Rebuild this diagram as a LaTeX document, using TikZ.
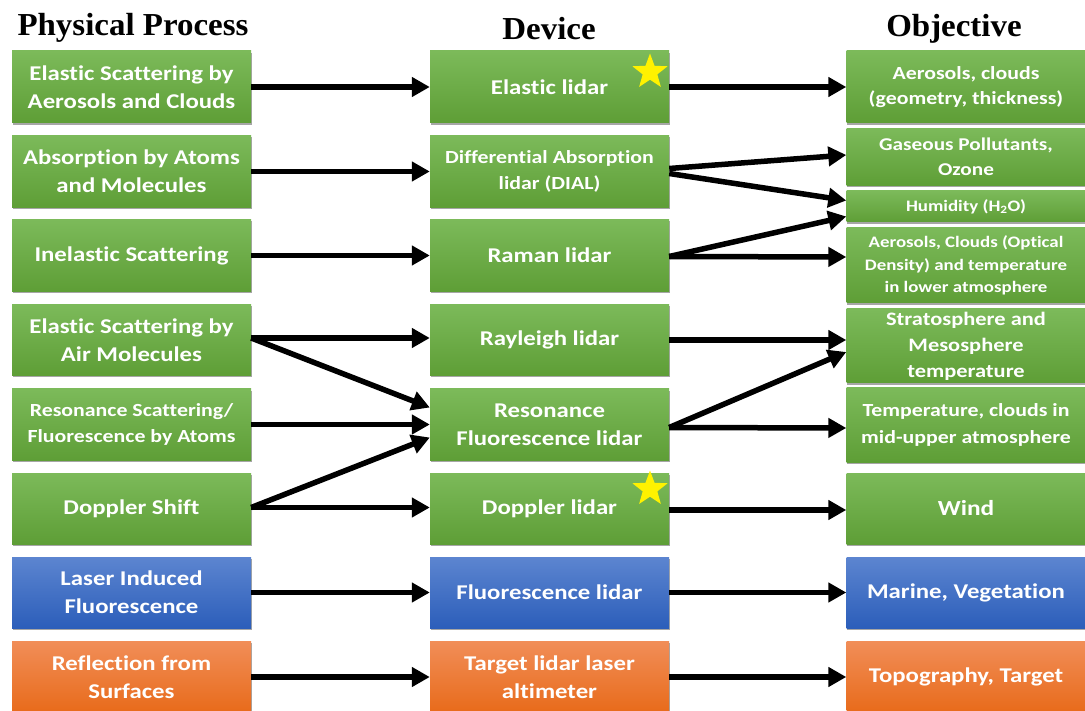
\documentclass[tikz,border=0pt]{standalone}
\usepackage{fontspec}
\setmainfont{Carlito}[FakeStretch=1.18, Ligatures=NoCommon]
\newfontfamily\headfont{Liberation Serif}[FakeStretch=1.03]
\usetikzlibrary{arrows.meta,shapes.geometric,shadows}

\definecolor{gtop}{RGB}{124,186,90}
\definecolor{gbot}{RGB}{94,158,54}
\definecolor{btop}{RGB}{92,133,208}
\definecolor{bbot}{RGB}{44,94,186}
\definecolor{otop}{RGB}{241,142,88}
\definecolor{obot}{RGB}{232,106,26}
\definecolor{staryellow}{RGB}{255,242,0}

\tikzset{
  box/.style={rectangle, minimum width=239pt, inner sep=1pt, align=center,
    text=white, font=\bfseries\fontsize{21}{28}\selectfont,
    drop shadow={shadow xshift=0.5pt, shadow yshift=-2pt, opacity=0.35, fill=black}},
  gbox/.style={box, top color=gtop, bottom color=gbot},
  bbox/.style={box, top color=btop, bottom color=bbot},
  obox/.style={box, top color=otop, bottom color=obot},
  hdr/.style={font=\headfont\bfseries\fontsize{32}{34}\selectfont, text=black, inner sep=0pt, anchor=base},
  arr/.style={line width=5.5pt, -{Triangle[length=18pt,width=19pt]}},
  starmark/.style={star, star points=5, star point ratio=2.4, fill=staryellow,
    draw=none, minimum size=37pt, inner sep=0pt},
}

\begin{document}
\begin{tikzpicture}[x=1pt,y=-1pt]
\useasboundingbox (0,0) rectangle (1085,711);

% column headings
\node[hdr] (hP) at (133,36) {Physical Process};
\node[hdr] (hD) at (549,40) {Device};
\node[hdr] (hO) at (954,37) {Objective};

% physical processes
\node[gbox, minimum height=72pt] (L1) at (131.5,87)   {Elastic Scattering by\\Aerosols and Clouds};
\node[gbox, minimum height=72pt] (L2) at (131.5,171.5) {Absorption by Atoms\\and Molecules};
\node[gbox, minimum height=72pt] (L3) at (131.5,255.5) {Inelastic Scattering};
\node[gbox, minimum height=71pt] (L4) at (131.5,340)   {Elastic Scattering by\\Air Molecules};
\node[gbox, minimum height=71pt, font=\bfseries\fontsize{18.5}{26}\selectfont] (L5) at (131.5,424.5) {Resonance Scattering/\\Fluorescence by Atoms};
\node[gbox, minimum height=71pt] (L6) at (131.5,508.5) {Doppler Shift};
\node[bbox, minimum height=71pt] (L7) at (131.5,592.5) {Laser Induced\\Fluorescence};
\node[obox, minimum height=72pt] (L8) at (131.5,677)   {Reflection from\\Surfaces};

% devices
\node[gbox, minimum height=72pt] (M1) at (549.5,87)    {Elastic lidar};
\node[gbox, minimum height=72pt, font=\bfseries\fontsize{18.5}{26}\selectfont] (M2) at (549.5,171.5) {Differential Absorption\\lidar (DIAL)};
\node[gbox, minimum height=72pt] (M3) at (549.5,255.5) {Raman lidar};
\node[gbox, minimum height=71pt] (M4) at (549.5,340)   {Rayleigh lidar};
\node[gbox, minimum height=71pt] (M5) at (549.5,424.5) {Resonance\\Fluorescence lidar};
\node[gbox, minimum height=71pt] (M6) at (549.5,508.5) {Doppler lidar};
\node[bbox, minimum height=71pt] (M7) at (549.5,592.5) {Fluorescence lidar};
\node[obox, minimum height=72pt] (M8) at (549.5,677)   {Target lidar laser\\altimeter};

\node[starmark] (S1) at (650,72) {};
\node[starmark] (S2) at (650,489) {};

% objectives
\node[gbox, minimum height=72pt, font=\bfseries\fontsize{18.5}{25}\selectfont] (R1) at (966,87)  {Aerosols, clouds\\(geometry, thickness)};
\node[gbox, minimum height=57pt, font=\bfseries\fontsize{18}{25}\selectfont] (R2) at (966,157) {Gaseous Pollutants,\\Ozone};
\node[gbox, minimum height=31pt, font=\bfseries\fontsize{16}{18}\selectfont] (R3) at (966,206.5) {Humidity (H\textsubscript{2}O)};
\node[gbox, minimum height=75pt, font=\bfseries\fontsize{16}{22.5}\selectfont] (R4) at (966,265.5) {Aerosols, Clouds (Optical\\Density) and temperature\\in lower atmosphere};
\node[gbox, minimum height=74pt, font=\bfseries\fontsize{19}{26}\selectfont] (R5) at (966,346) {Stratosphere and\\Mesosphere\\temperature};
\node[gbox, minimum height=74pt, font=\bfseries\fontsize{18.5}{27}\selectfont] (R6) at (966,425) {Temperature, clouds in\\mid-upper atmosphere};
\node[gbox, minimum height=71pt, font=\bfseries\fontsize{21.5}{28}\selectfont] (R7) at (966,508.5) {Wind};
\node[bbox, minimum height=71pt] (R8) at (966,592.5) {Marine, Vegetation};
\node[obox, minimum height=72pt] (R9) at (966,677)   {Topography, Target};

% process -> device
\draw[arr] (L1) -- (M1);
\draw[arr] (L2) -- (M2);
\draw[arr] (L3) -- (M3);
\draw[arr] ([yshift=2pt]L4.east) -- ([yshift=2pt]M4.west);
\draw[arr] ([yshift=2pt]L4.east) -- ([yshift=17pt]M5.west);
\draw[arr] (L5) -- (M5);
\draw[arr] ([yshift=1pt]L6.east) -- ([yshift=-13pt]M5.west);
\draw[arr] ([yshift=1pt]L6.east) -- ([yshift=1pt]M6.west);
\draw[arr] (L7) -- (M7);
\draw[arr] (L8) -- (M8);

% device -> objective
\draw[arr] (M1) -- (R1);
\draw[arr] ([yshift=3pt]M2.east) -- ([yshift=2pt]R2.west);
\draw[arr] ([yshift=-2pt]M2.east) -- ([yshift=6pt]R3.west);
\draw[arr] ([yshift=-1pt]M3.east) -- ([yshift=-10pt]R3.west);
\draw[arr] ([yshift=-1pt]M3.east) -- ([yshift=8.5pt]R4.west);
\draw[arr] ([yshift=0pt]M4.east) -- ([yshift=6pt]R5.west);
\draw[arr] ([yshift=-3pt]M5.east) -- ([yshift=-6pt]R5.west);
\draw[arr] ([yshift=-3pt]M5.east) -- ([yshift=-3pt]R6.west);
\draw[arr] ([yshift=-1.5pt]M6.east) -- ([yshift=-1.5pt]R7.west);
\draw[arr] (M7) -- (R8);
\draw[arr] (M8) -- (R9);
\end{tikzpicture}
\end{document}
